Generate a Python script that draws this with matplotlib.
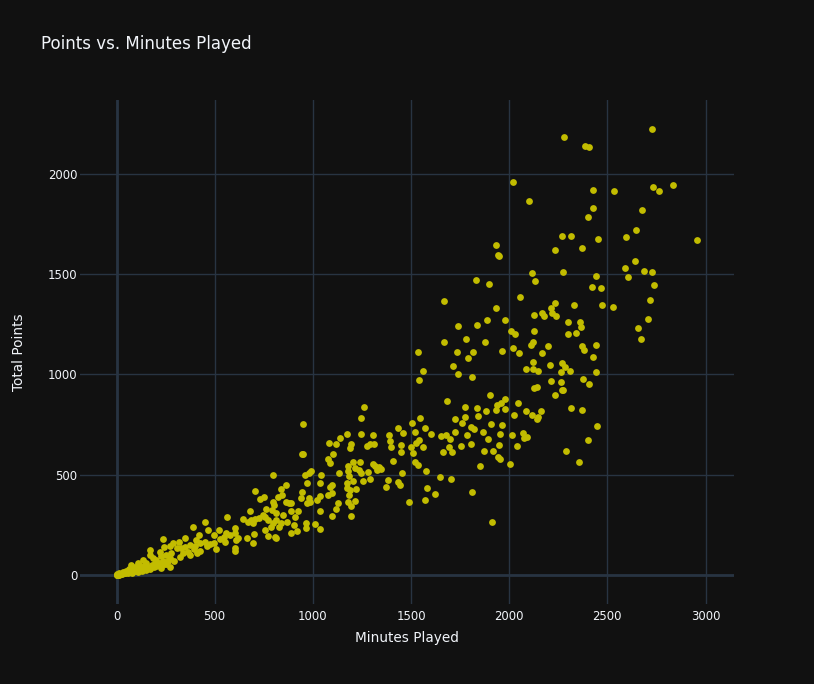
import matplotlib
matplotlib.use("Agg")
import matplotlib.pyplot as plt

# ---- data (minutes played, total points) ----
minutes_low = [703,733,749,762,679,686,644,672,694,706,
               725,745,757,771,562,452,389,756,700,666,
               694,769,606,601,610,618,579,559,545,520,
               499,525,465,419,406,423,453,474,460,497,
               508,550,601,606,351,318,287,239,270,307,
               329,351,372,401,394,363,338,321,372,409,
               423,243,219,228,253,270,278,172,168,185,
               134,151,194,216,253,273,228,168,117,92,
               83,66,49,32,15,2,7,24,41,58,
               100,126,143,109,75,202,295,236,
               0,3,10,20,30,12,45,60,80,90,
               110,130,150,170,120,100,140,160,180,200,
               220,240,260,190]
points_low = [421,379,387,328,319,274,278,266,258,281,
              283,299,288,274,289,264,241,224,203,183,
              158,194,233,208,175,183,200,211,191,224,
              200,181,224,198,175,158,166,155,145,158,
              130,166,133,121,186,166,158,181,145,136,
              133,141,150,145,128,116,108,91,100,108,
              120,141,116,95,100,83,111,125,100,83,
              75,58,58,50,55,42,33,33,50,42,
              25,28,22,17,12,5,0,3,8,15,
              22,28,42,58,50,75,67,67,
              0,1,2,3,5,0,8,10,12,18,
              15,20,25,30,35,30,45,40,50,45,
              60,55,70,38]

minutes_mid = [1262,1245,951,944,951,1080,1117,1139,1172,1187,
               1195,1246,1307,1275,1292,1309,1386,1391,1396,1435,
               1460,1447,1450,1503,1545,1518,1571,1501,1510,1543,
               1526,1560,1521,1533,1577,1408,1104,1076,1087,1134,
               1180,1177,1207,1240,1214,1234,1243,1282,1304,1319,
               1335,1345,1328,1453,1384,1374,1436,1442,1292,1253,
               1202,1183,1175,1173,1190,1219,1183,1216,1177,1194,
               1195,1127,1116,1100,1095,1087,1099,1078,1044,1037,
               1036,1019,1037,990,978,959,971,946,939,981,
               985,970,1012,1037,964,964,922,908,905,919,
               891,876,861,891,861,837,842,823,796,796,
               803,790,813,847,839,813,796,868,890,830,
               805,1489,1569,1583,813,788]
points_mid = [838,781,753,603,603,660,653,685,703,635,
              652,703,698,643,653,655,697,668,640,731,
              708,648,613,756,781,713,735,640,607,673,
              657,638,564,547,519,569,602,578,560,510,
              544,519,562,564,532,524,510,512,552,545,
              537,529,522,507,474,441,465,449,479,469,
              469,494,460,432,424,427,397,371,364,344,
              294,361,329,293,447,437,407,399,499,457,
              394,374,318,520,507,497,457,416,384,384,
              366,361,256,229,261,233,321,288,251,221,
              321,361,364,361,450,431,399,387,497,366,
              349,324,308,298,258,274,258,264,208,241,
              191,366,376,435,183,241]

minutes_high = [1667,1781,1878,1732,1818,1791,1713,1737,1812,1963,
                2017,2048,2087,1900,1684,1773,1837,1883,1934,1936,
                1958,1980,1981,2046,2022,2087,1725,1773,1761,1842,
                1808,1820,1907,1964,1725,1601,1652,1676,1698,1786,
                1866,1890,1951,2014,2068,2073,2092,1691,1664,1711,
                1752,1805,1874,1915,1946,2039,1941,1953,1852,2002,
                1647,1705,1623,1810,1913,
                2017,2100,2399,2267,2316,2452,2234,2372,1935,1942,
                1949,2114,2132,2272,2440,2423,1898,2056,2233,2214,
                2216,2239,2329,2165,2177,2127,1932,1886,1981,2297,
                2360,2367,2008,2029,
                1829,1666,1740,1835,1533,1560,1542]
points_high = [1160,1175,1160,1114,1112,1081,1042,1001,988,1116,
               1130,1109,1026,898,869,838,833,820,823,848,
               856,876,830,858,798,820,780,790,760,791,
               738,728,755,750,715,705,693,697,680,700,
               715,680,705,698,710,685,688,637,613,615,
               642,652,620,617,648,642,589,579,542,552,
               490,479,406,416,266,
               1960,1867,1786,1691,1691,1676,1623,1633,1648,1596,
               1591,1506,1466,1510,1491,1438,1451,1387,1358,1332,
               1305,1290,1348,1307,1290,1298,1333,1273,1272,1264,
               1260,1239,1219,1204,
               1471,1367,1240,1249,1114,1019,972]

minutes_top = [2645,2596,2956,2643,2591,2603,2686,2728,2470,2740,
               2718,2475,2528,2708,2655,
               2277,2384,2409,2725,2426,2533,2730,2761,2833,2428,2674,
               2127,2119,2112,2299,2338,2197,2165,2372,2380,2441,
               2429,2122,2119,2146,2209,2268,2285,2265,2312,2443,
               2214,2265,2268,2273,2231,2124,2141,2375,2409,2671,
               2163,2114,2144,2148,2316,2373,2448,2402,2290,2358]
points_top = [1721,1684,1672,1568,1530,1486,1516,1511,1431,1448,
              1370,1345,1335,1277,1232,
              2184,2138,2136,2224,1922,1915,1935,1913,1945,1829,1820,
              1217,1160,1147,1204,1209,1140,1109,1144,1124,1149,
              1086,1062,1029,1019,1047,1057,1039,1012,1017,1011,
              969,963,923,923,898,931,939,978,954,1179,
              818,800,780,786,835,823,745,672,618,562]

x_ticks = [0, 500, 1000, 1500, 2000, 2500, 3000]
y_ticks = [0, 500, 1000, 1500, 2000]

minutes = minutes_low + minutes_mid + minutes_high + minutes_top
points = points_low + points_mid + points_high + points_top

# ---- styling ----
BG = "#111111"
GRID = "#283442"
TXT = "#f2f5fa"
MARK = "#c2bc00"
plt.rcParams["font.family"] = ["DejaVu Sans"]

W, H = 814, 684
fig = plt.figure(figsize=(W / 100, H / 100), dpi=100, facecolor=BG)
ax = fig.add_axes([80 / W, 80 / H, 654 / W, 504 / H], facecolor=BG)

ax.scatter(minutes, points, s=24, color=MARK, linewidths=0, zorder=3)

ax.set_xlim(-186, 3145)
ax.set_ylim(-145, 2369)
ax.set_xticks(x_ticks)
ax.set_yticks(y_ticks)
ax.set_xticklabels([str(v) for v in x_ticks])
ax.set_yticklabels([str(v) for v in y_ticks])
ax.grid(True, color=GRID, linewidth=1, zorder=0)
ax.axvline(0, color=GRID, linewidth=2, zorder=1)
ax.axhline(0, color=GRID, linewidth=2, zorder=1)
for sp in ax.spines.values():
    sp.set_visible(False)
ax.tick_params(axis="both", length=0, colors=TXT, labelsize=8.4)
ax.tick_params(axis="x", pad=4)
ax.tick_params(axis="y", pad=2)

fig.text(40.7 / W, 1 - 44 / H, "Points vs. Minutes Played", color=TXT,
         fontsize=12.0, ha="left", va="center")
fig.text(407 / W, 1 - 638 / H, "Minutes Played", color=TXT,
         fontsize=9.8, ha="center", va="center")
fig.text(19 / W, 1 - 352 / H, "Total Points", color=TXT,
         fontsize=9.8, ha="center", va="center", rotation=90)

fig.savefig("out.png", dpi=100, facecolor=BG)
